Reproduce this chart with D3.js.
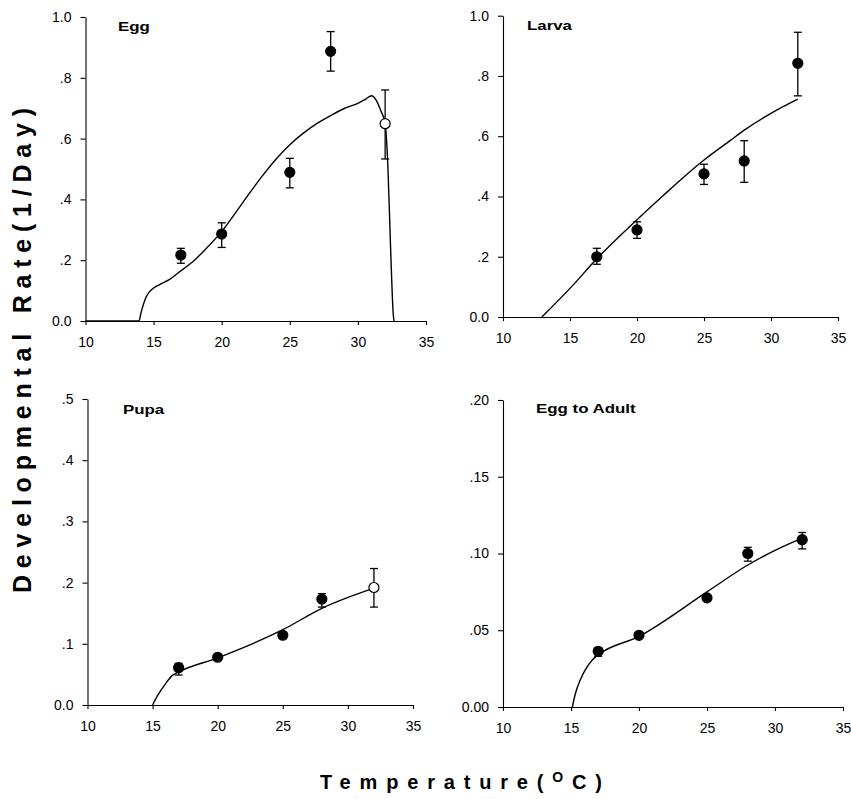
<!DOCTYPE html>
<html>
<head>
<meta charset="utf-8">
<script src="https://cdn.jsdelivr.net/npm/d3@7"></script>
<style>
  html, body { margin: 0; padding: 0; background: #fff; }
  svg { display: block; }
  text { font-family: "Liberation Sans", Arial, sans-serif; fill: #000; }
</style>
</head>
<body>
<svg id="chart" width="851" height="799"></svg>
<script>
// ---------------- DATA ----------------
const temps = [17, 20, 25, 28, 32];
const xTicks = [10, 15, 20, 25, 30, 35];
const xTickLabels = ["10", "15", "20", "25", "30", "35"];

// Egg
const eggRate = [0.217, 0.286, 0.489, 0.887, 0.649];
const eggLo   = [0.190, 0.242, 0.438, 0.822, 0.533];
const eggHi   = [0.239, 0.323, 0.535, 0.952, 0.760];
const eggOpen = [false, false, false, false, true];
const eggCurveT = [10, 13.92, 14.09, 14.46, 14.95, 15.44, 16.18, 16.91, 18, 19, 20, 21, 22, 23, 24, 25, 26, 27, 28, 29, 30, 30.6, 31, 31.35, 31.7, 32, 32.2, 32.4, 32.6, 32.65];
const eggCurveR = [0, 0, 0.03, 0.08, 0.107, 0.12, 0.137, 0.162, 0.2, 0.245, 0.294, 0.355, 0.418, 0.478, 0.533, 0.58, 0.618, 0.65, 0.676, 0.699, 0.716, 0.731, 0.741, 0.726, 0.69, 0.65, 0.51, 0.24, 0.02, 0];
const eggYTicks = [0, 0.2, 0.4, 0.6, 0.8, 1.0];
const eggYLabels = ["0.0", ".2", ".4", ".6", ".8", "1.0"];

// Larva
const larvaRate = [0.200, 0.289, 0.475, 0.518, 0.842];
const larvaLo   = [0.175, 0.261, 0.440, 0.447, 0.734];
const larvaHi   = [0.228, 0.316, 0.507, 0.585, 0.945];
const larvaOpen = [false, false, false, false, false];
const larvaCurveT = [12.9, 15, 17, 20, 22, 25, 27, 28, 30, 32];
const larvaCurveR = [0, 0.095, 0.193, 0.323, 0.405, 0.521, 0.587, 0.62, 0.676, 0.723];
const larvaYTicks = [0, 0.2, 0.4, 0.6, 0.8, 1.0];
const larvaYLabels = ["0.0", ".2", ".4", ".6", ".8", "1.0"];

// Pupa
const pupaRate = [0.061, 0.078, 0.114, 0.173, 0.192];
const pupaLo   = [0.049, 0.074, 0.109, 0.160, 0.160];
const pupaHi   = [0.068, 0.081, 0.118, 0.182, 0.223];
const pupaOpen = [false, false, false, false, true];
const pupaCurveT = [15, 15.4, 16, 16.5, 17, 20, 25, 28, 32];
const pupaCurveR = [0, 0.016, 0.035, 0.048, 0.054, 0.077, 0.123, 0.158, 0.191];
const pupaYTicks = [0, 0.1, 0.2, 0.3, 0.4, 0.5];
const pupaYLabels = ["0.0", ".1", ".2", ".3", ".4", ".5"];

// Egg to Adult
const adultRate = [0.0363, 0.0467, 0.0711, 0.100, 0.109];
const adultLo   = [0.0330, 0.0455, 0.0700, 0.095, 0.103];
const adultHi   = [0.0387, 0.0480, 0.0722, 0.104, 0.1137];
const adultOpen = [false, false, false, false, false];
const adultCurveT = [15.1, 15.3, 15.7, 16.1, 16.6, 17, 20, 25, 28, 30, 32];
const adultCurveR = [0, 0.008, 0.018, 0.025, 0.031, 0.034, 0.046, 0.075, 0.0925, 0.102, 0.110];
const adultYTicks = [0, 0.05, 0.10, 0.15, 0.20];
const adultYLabels = ["0.00", ".05", ".10", ".15", ".20"];

// ---------------- LAYOUT ----------------
const panels = [
  { title: "Egg", rate: eggRate, lo: eggLo, hi: eggHi, open: eggOpen, ct: eggCurveT, cr: eggCurveR,
    yTicks: eggYTicks, yLabels: eggYLabels, yMax: 1.0, xr: [85.5, 426], yr: [321, 17], tx: 118, ty: 31 },
  { title: "Larva", rate: larvaRate, lo: larvaLo, hi: larvaHi, open: larvaOpen, ct: larvaCurveT, cr: larvaCurveR,
    yTicks: larvaYTicks, yLabels: larvaYLabels, yMax: 1.0, xr: [503, 838], yr: [317, 15.7], tx: 527, ty: 30 },
  { title: "Pupa", rate: pupaRate, lo: pupaLo, hi: pupaHi, open: pupaOpen, ct: pupaCurveT, cr: pupaCurveR,
    yTicks: pupaYTicks, yLabels: pupaYLabels, yMax: 0.5, xr: [87.5, 413], yr: [705, 399], tx: 123, ty: 414 },
  { title: "Egg to Adult", rate: adultRate, lo: adultLo, hi: adultHi, open: adultOpen, ct: adultCurveT, cr: adultCurveR,
    yTicks: adultYTicks, yLabels: adultYLabels, yMax: 0.20, xr: [503, 843], yr: [707, 400], tx: 536, ty: 413 }
];

const svg = d3.select("#chart");

panels.forEach(p => {
  const x = d3.scaleLinear().domain([10, 35]).range(p.xr);
  const y = d3.scaleLinear().domain([0, p.yMax]).range(p.yr);
  const g = svg.append("g");

  // axes
  const xAxis = d3.axisBottom(x).tickValues(xTicks)
    .tickFormat((d, i) => xTickLabels[i]).tickSizeInner(4).tickSizeOuter(0).tickPadding(12);
  const gx = g.append("g").attr("transform", `translate(0,${p.yr[0]})`).call(xAxis);
  const yAxis = d3.axisLeft(y).tickValues(p.yTicks)
    .tickFormat((d, i) => p.yLabels[i]).tickSizeInner(5).tickSizeOuter(0).tickPadding(9);
  const gy = g.append("g").attr("transform", `translate(${p.xr[0]},0)`).call(yAxis);
  [gx, gy].forEach(a => {
    a.select(".domain").attr("stroke", "#000").attr("stroke-width", 1.1);
    a.selectAll(".tick line").attr("stroke", "#000").attr("stroke-width", 1.1);
    a.selectAll(".tick text").attr("font-size", 14).attr("font-family", "Liberation Sans, Arial, sans-serif");
  });

  // curve
  const pts = p.ct.map((t, i) => [t, p.cr[i]]);
  g.append("path")
    .attr("d", d3.line().x(d => x(d[0])).y(d => y(d[1])).curve(d3.curveMonotoneX)(pts))
    .attr("fill", "none").attr("stroke", "#000").attr("stroke-width", 1.4);

  // error bars
  temps.forEach((t, i) => {
    const cx = x(t);
    const eg = g.append("g").attr("stroke", "#000").attr("stroke-width", 1.3);
    eg.append("line").attr("x1", cx).attr("x2", cx).attr("y1", y(p.lo[i])).attr("y2", y(p.hi[i]));
    eg.append("line").attr("x1", cx - 4).attr("x2", cx + 4).attr("y1", y(p.lo[i])).attr("y2", y(p.lo[i]));
    eg.append("line").attr("x1", cx - 4).attr("x2", cx + 4).attr("y1", y(p.hi[i])).attr("y2", y(p.hi[i]));
  });

  // markers
  g.selectAll("circle.pt").data(temps).enter().append("circle")
    .attr("cx", d => x(d))
    .attr("cy", (d, i) => y(p.rate[i]))
    .attr("r", 5)
    .attr("fill", (d, i) => p.open[i] ? "#fff" : "#000")
    .attr("stroke", "#000").attr("stroke-width", 1.2);

  // title
  g.append("text")
    .attr("transform", `translate(${p.tx},${p.ty}) scale(1.25,1)`)
    .attr("font-size", 13.5).attr("font-weight", "bold")
    .text(p.title);
});

// ---------------- AXIS TITLES ----------------
function spaced(textSel, target) {
  textSel.attr("letter-spacing", 0);
  const node = textSel.node();
  const L0 = node.getComputedTextLength();
  const n = node.textContent.length;
  const s = (target - L0) / (n - 1);
  textSel.attr("letter-spacing", s);
}

const yt = svg.append("text")
  .attr("transform", "translate(31,593) rotate(-90)")
  .attr("font-size", 25).attr("font-weight", "bold")
  .attr("text-anchor", "start")
  .style("white-space", "pre")
  .text("Developmental Rate(1/Day)");
spaced(yt, 485);

const xt = svg.append("text")
  .attr("x", 320).attr("y", 789)
  .attr("font-size", 20).attr("font-weight", "bold")
  .attr("text-anchor", "start");
xt.append("tspan").text("Temperature(");
xt.append("tspan").attr("font-size", 14).attr("dy", -7).text("O");
xt.append("tspan").attr("font-size", 20).attr("dy", 7).text("C");
xt.append("tspan").text(")");
spaced(xt, 282);
</script>
</body>
</html>
